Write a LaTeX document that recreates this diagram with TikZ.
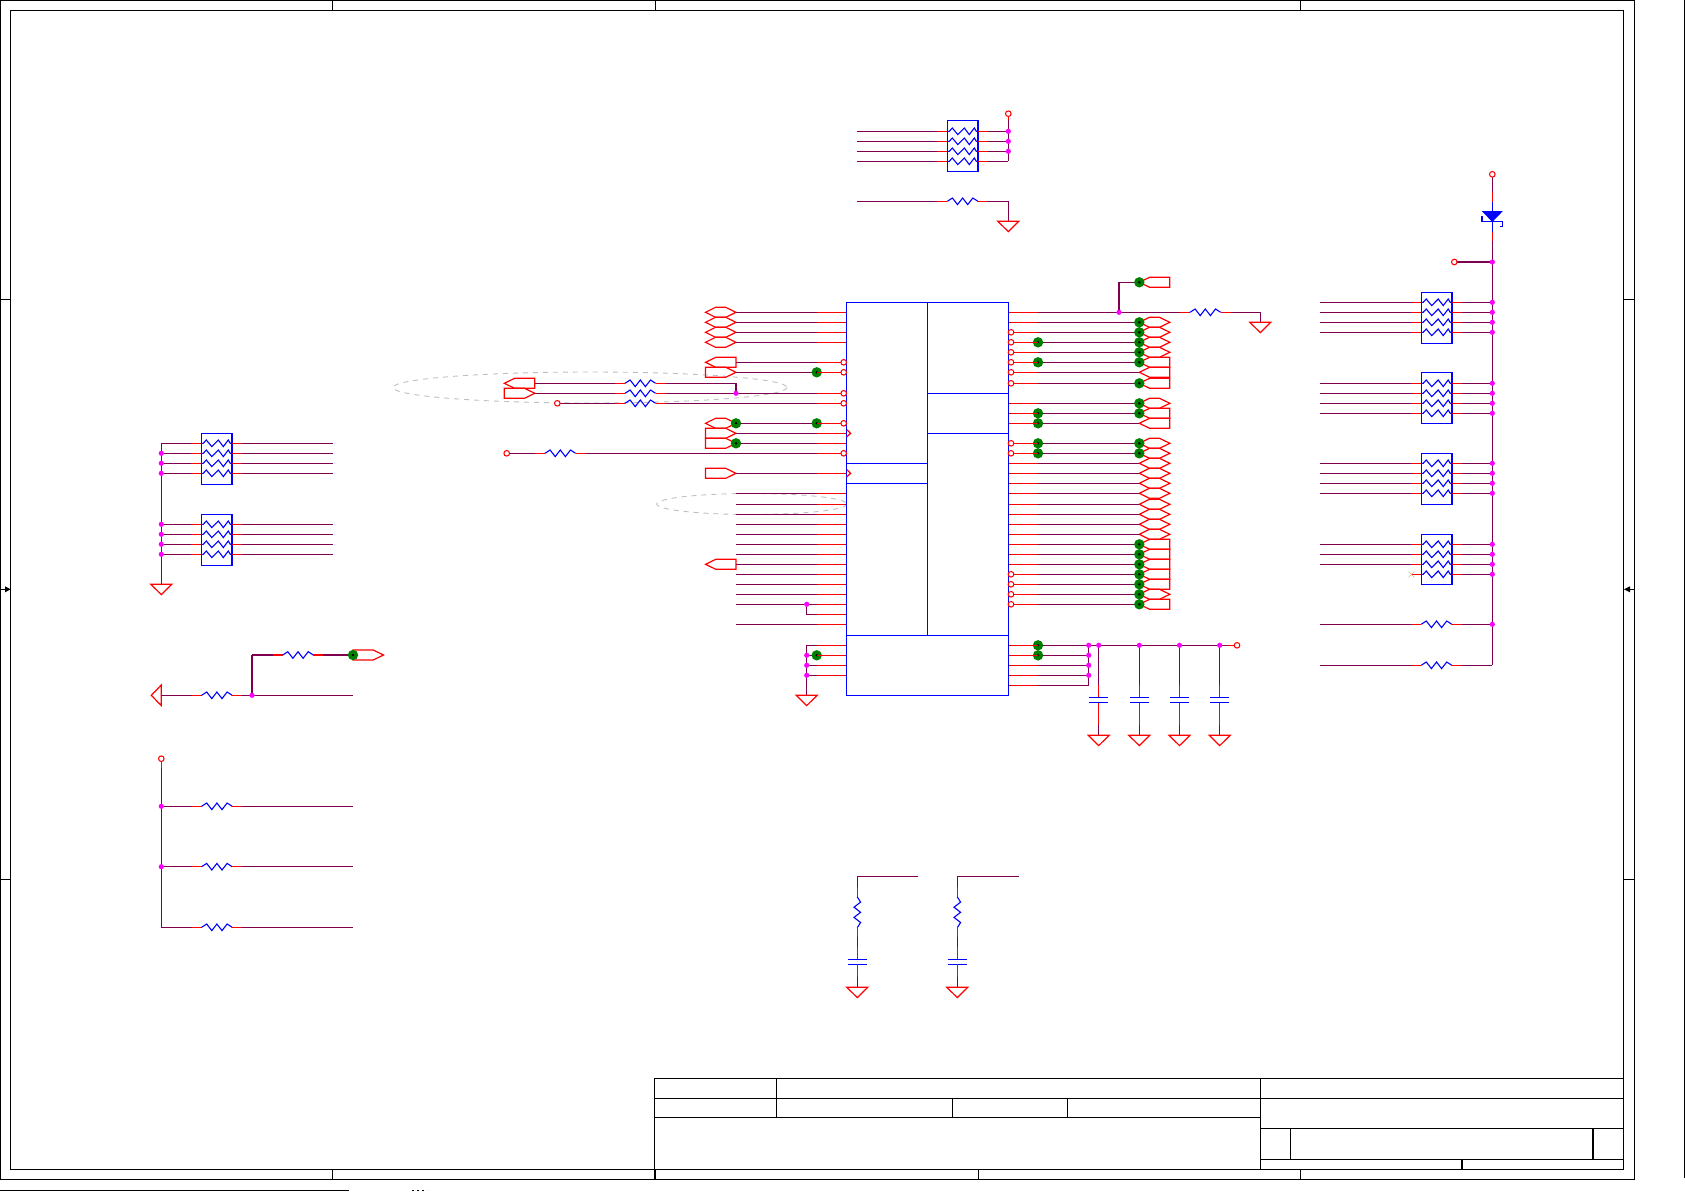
\documentclass[tikz,border=0pt]{standalone}
\definecolor{netc}{rgb}{0.502,0,0.314}
\definecolor{jnc}{rgb}{1,0,1}
\definecolor{tpc}{rgb}{0,0.502,0}
\tikzset{
  frameline/.style={draw=black,line width=1.2pt},
  netline/.style={draw=netc,line width=1.25pt},
  stubline/.style={draw=red,line width=1.25pt},
  bodyline/.style={draw=blue,line width=1.25pt},
  zigline/.style={draw=blue,line width=1.1pt},
  connline/.style={draw=red,line width=1.2pt,line join=miter},
  haloline/.style={draw=black!25,line width=.9pt,dash pattern=on 5pt off 5pt},
  bubbleline/.style={draw=red,fill=white,line width=1.05pt},
  jdot/.style={fill=jnc,draw=none},
  tpdot/.style={fill=tpc,draw=none}
}
% off-sheet connectors
\newcommand{\skHex}[2]{\draw[connline] (#1,#2) -- ++(10,-5) -- ++(10.2,0) -- ++(10.3,5) -- ++(-10.3,5) -- ++(-10.2,0) -- cycle;}
\newcommand{\skPentR}[2]{\draw[connline] (#1,#2-5) -- ++(20.2,0) -- ++(10.3,5) -- ++(-10.3,5) -- ++(-20.2,0) -- cycle;}
\newcommand{\skPentL}[2]{\draw[connline] (#1,#2) -- ++(10.3,-5) -- ++(20.2,0) -- ++(0,10) -- ++(-20.2,0) -- cycle;}
% marks
\newcommand{\skG}[2]{\fill[tpdot] (#1,#2) circle (5.2); \fill[black] (#1,#2) circle (1.4);}
\newcommand{\skJ}[2]{\fill[jdot] (#1,#2) circle (2.6);}
\newcommand{\skB}[2]{\draw[bubbleline] (#1,#2) circle (2.8);}
\newcommand{\skGnd}[2]{\draw[connline] (#1-10.5,#2) -- (#1+10.5,#2) -- (#1,#2+10.3) -- cycle;}
% plain wire
\newcommand{\skW}[4]{\coordinate (wa) at (#1,#2); \coordinate (wb) at (#3,#4); \draw[netline] (wa) -- (wb);}
\newcommand{\skS}[4]{\coordinate (sa) at (#1,#2); \coordinate (sb) at (#3,#4); \draw[stubline] (sa) -- (sb);}
% bare resistor, left edge x, row y
\newcommand{\skRes}[2]{%
  \skS{#1-10}{#2}{#1}{#2}
  \draw[zigline] (#1,#2) -- ++(5.1,-3.3) -- ++(5.1,6.6) -- ++(5.1,-6.6) -- ++(5.1,6.6) -- ++(5.1,-6.6) -- ++(5.1,3.3);
  \skS{#1+30.6}{#2}{#1+40.6}{#2}}
% resistor inside a pack
\newcommand{\skPres}[2]{%
  \skS{#1-10}{#2}{#1}{#2}
  \draw[zigline] (#1,#2) -- ++(2,0) -- ++(3,-3.3) -- ++(5.5,6.6) -- ++(6.5,-6.6) -- ++(5,6.6) -- ++(5,-6.6) -- ++(2,3.3) -- ++(1.6,0);
  \skS{#1+30.6}{#2}{#1+40.6}{#2}}
% whole row of a pack / of a bare resistor: x, y, left end, right end
\newcommand{\skProw}[4]{\skW{#3}{#2}{#1-10}{#2}\skW{#1+40.6}{#2}{#4}{#2}\skPres{#1}{#2}}
\newcommand{\skRrow}[4]{\skW{#3}{#2}{#1-10}{#2}\skW{#1+40.6}{#2}{#4}{#2}\skRes{#1}{#2}}
% four-row pack: x, top of box, first row, left end, right end
\newcommand{\skPack}[5]{%
  \draw[bodyline] (#1,#2) rectangle ++(30.8,51);
  \skProw{#1}{#3}{#4}{#5}\skProw{#1}{#3+10}{#4}{#5}\skProw{#1}{#3+20}{#4}{#5}\skProw{#1}{#3+30}{#4}{#5}}
% capacitor plates
\newcommand{\skCap}[2]{\draw[bodyline] (#1-9.7,#2) -- (#1+9.7,#2); \draw[bodyline] (#1-9.7,#2+5) -- (#1+9.7,#2+5);}
\begin{document}
\begin{tikzpicture}[x=1pt,y=-1pt]
\useasboundingbox (0,0) rectangle (1685,1191);
% ---------- sheet frame
\draw[frameline] (0.5,0.5) rectangle (1634.4,1179.3);
\draw[frameline] (10.7,10.5) rectangle (1623.3,1169.3);
\foreach \xa in {332.3,655.5,1300.3} \draw[frameline] (\xa,0.5) -- (\xa,10.5);
\foreach \xa in {332.3,655,978.7,1300.7} \draw[frameline] (\xa,1169.3) -- (\xa,1179.3);
\foreach \ya in {299.2,879.2} {\draw[frameline] (0.5,\ya) -- (10.7,\ya); \draw[frameline] (1623.3,\ya) -- (1634.4,\ya);}
\draw[frameline] (0.5,589.3) -- (6,589.3); \fill[black] (5,586.3) -- (10.7,589.3) -- (5,592.3) -- cycle;
\draw[frameline] (1629,589.3) -- (1634.4,589.3); \fill[black] (1630,586.3) -- (1624,589.3) -- (1630,592.3) -- cycle;
% title block
\draw[frameline] (654.7,1169.3) -- (654.7,1078.3) -- (1623.3,1078.3);
\draw[frameline] (654.7,1098.3) -- (1623.3,1098.3);
\draw[frameline] (654.7,1117.3) -- (1260.7,1117.3);
\draw[frameline] (776.7,1078.3) -- (776.7,1117.3);
\draw[frameline] (952.7,1098.3) -- (952.7,1117.3);
\draw[frameline] (1067.3,1098.3) -- (1067.3,1117.3);
\draw[frameline] (1260.7,1078.3) -- (1260.7,1169.3);
\draw[frameline] (1260.7,1128.3) -- (1623.3,1128.3);
\draw[frameline] (1260.7,1159.3) -- (1623.3,1159.3);
\draw[frameline] (1290.7,1128.3) -- (1290.7,1159.3);
\draw[frameline] (1593,1128.3) -- (1593,1159.3);
\draw[frameline] (1462,1159.3) -- (1462,1169.3);
% clipped marks at the page edge
\draw[frameline] (0,1190.5) -- (349,1190.5);
\draw[frameline,dash pattern=on 2pt off 3pt] (412,1190.5) -- (427,1190.5);
\draw[frameline] (1684.5,0) -- (1684.5,1178);
% ---------- dashed outlines
\draw[haloline] (590,387.5) ellipse (197 and 15.5);
\draw[haloline] (751.7,504) ellipse (95 and 10.5);
% ---------- IC pin positions
\foreach \ya in {312,322,332,342,362,372,393,403,423,433,443,453,473,493,504,514,524,534,544,554,564,574,584,594,604,614,624,645,655,665,675} {
  \coordinate (Lp\ya) at (846.3,\ya+.3);
  \coordinate (Ls\ya) at (816.7,\ya+.3);
  \coordinate (Lw\ya) at (736,\ya+.3);
}
\foreach \ya in {312,322,332,342,352,362,372,383,403,413,423,443,453,463,473,483,493,504,514,524,534,544,554,564,574,584,594,604,645,655,665,675,685} {
  \coordinate (Rp\ya) at (1008.3,\ya+.3);
  \coordinate (Rs\ya) at (1038,\ya+.3);
  \coordinate (Rw\ya) at (1139.3,\ya+.3);
}
% ---------- left connectors
\foreach \ya in {312.3,322.3,332.3,342.3,423.3} {\skHex{705.5}{\ya}}
\foreach \ya in {362.3,564.3} {\skPentL{705.5}{\ya}}
\foreach \ya in {372.3,433.3,443.3,473.3} {\skPentR{705.5}{\ya}}
\skPentL{504.3}{383.3}
\skPentR{504.3}{393.3}
% ---------- right connectors
\foreach \ya in {322.3,332.3,342.3,352.3,403.3,443.3,453.3,463.3,473.3,483.3,493.3,504.3,514.3,524.3,534.3,594.3} {\skHex{1139.3}{\ya}}
\foreach \ya in {282.3,362.3,372.3,383.3,413.3,423.3,544.3,554.3,564.3,574.3,584.3,604.3} {\skPentL{1139.3}{\ya}}
% ---------- IC wires, outer purple parts
\foreach \ya in {312,322,332,342,362,372,423,433,443,473,493,504,514,524,534,544,554,564,574,584,594,604,624}
  {\draw[netline] (Lw\ya) -- (Ls\ya);}
\foreach \ya in {322,332,342,352,362,372,383,403,413,423,443,453,463,473,483,493,504,514,524,534,544,554,564,574,584,594,604}
  {\draw[netline] (Rs\ya) -- (Rw\ya);}
% resistor branch to rows 393/403
\skW{534.8}{383.3}{615}{383.3}\skRes{625}{383.3}\skW{665.6}{383.3}{736}{383.3}
\skW{736}{383.3}{736}{393.3}
\skW{534.8}{393.3}{615}{393.3}\skRes{625}{393.3}\draw[netline] (665.6,393.3) -- (Ls393);
\skW{560}{403.3}{615}{403.3}\skRes{625}{403.3}\draw[netline] (665.6,403.3) -- (Ls403);
% row 453
\skW{509.5}{453.3}{535}{453.3}\skRes{545}{453.3}\draw[netline] (585.6,453.3) -- (Ls453);
% rows 604/614 tie
\coordinate (tie) at (806.7,604.3);
\draw[netline] (tie) |- (Ls614);
% ground rail left of IC
\coordinate (gl) at (806.7,695.3);
\draw[netline] (806.7,645.3) -- (gl);
\foreach \ya in {645,655,665,675} {\draw[netline] (806.7,\ya+.3) -- (Ls\ya);}
\skGnd{806.7}{695.3}
% supply rail right of IC
\draw[netline] (Rs645) -- (1227,645.3);
\foreach \ya in {655,665,675,685} {\draw[netline] (Rs\ya) -- (1088.7,\ya+.3);}
\skW{1088.7}{645.3}{1088.7}{685.3}
\skS{1227}{645.3}{1234.2}{645.3}
% capacitors on the rail
\foreach \xa in {1098.7,1139.3,1179.5,1219.7} {
  \skW{\xa}{645.3}{\xa}{685}
  \skS{\xa}{685}{\xa}{697.3}
  \skS{\xa}{702.3}{\xa}{725}
  \skW{\xa}{725}{\xa}{735.3}
  \skCap{\xa}{697.3}
  \skGnd{\xa}{735.3}
}
% row 312 to ground
\draw[netline] (Rs312) -- (1180,312.3);
\skRes{1190}{312.3}
\skW{1230.6}{312.3}{1260.3}{312.3}
\skW{1260.3}{312.3}{1260.3}{322.3}
\skGnd{1260.3}{322.3}
\coordinate (t282) at (1139.3,282.3);
\draw[netline] (1119,312.3) |- (t282);
% ---------- green test points
\foreach \ya in {372.3,423.3,655.3} {\skG{816.7}{\ya}}
\foreach \ya in {423.3,443.3} {\skG{736}{\ya}}
\foreach \ya in {342.3,362.3,413.3,423.3,443.3,453.3,645.3,655.3} {\skG{1038}{\ya}}
\foreach \ya in {282.3,322.3,332.3,342.3,352.3,362.3,383.3,403.3,413.3,443.3,453.3,544.3,554.3,564.3,574.3,584.3,594.3,604.3} {\skG{1139.3}{\ya}}
% ---------- red pin stubs
\foreach \ya in {312,322,332,342,362,372,393,403,423,433,443,453,473,493,504,514,524,534,544,554,564,574,584,594,604,614,624,645,655,665,675}
  {\draw[stubline] (Ls\ya) -- (Lp\ya);}
\foreach \ya in {312,322,332,342,352,362,372,383,403,413,423,443,453,463,473,483,493,504,514,524,534,544,554,564,574,584,594,604,645,655,665,675,685}
  {\draw[stubline] (Rp\ya) -- (Rs\ya);}
% ---------- IC body
\draw[bodyline] (846.3,302.3) rectangle (1008.3,695.3);
\draw[bodyline] (927.3,302.3) -- (927.3,635.3);
\draw[bodyline] (846.3,635.3) -- (1008.3,635.3);
\draw[bodyline] (846.3,463.3) -- (927.3,463.3);
\draw[bodyline] (846.3,483.3) -- (927.3,483.3);
\draw[bodyline] (927.3,393.3) -- (1008.3,393.3);
\draw[bodyline] (927.3,433.3) -- (1008.3,433.3);
% pin bubbles and clock marks
\foreach \ya in {362.3,372.3,393.3,403.3,423.3,453.3} {\skB{843.7}{\ya}}
\foreach \ya in {332.3,342.3,352.3,362.3,372.3,383.3,443.3,453.3,574.3,584.3,594.3,604.3} {\skB{1011}{\ya}}
\foreach \ya in {433.3,473.3} {\draw[stubline] (846.8,\ya-3.6) -- (850.6,\ya) -- (846.8,\ya+3.6);}
% ---------- junctions
\skJ{736}{393.3}
\skJ{806.7}{604.3}
\skJ{806.7}{655.3}\skJ{806.7}{665.3}\skJ{806.7}{675.3}
\foreach \ya in {645.3,655.3,665.3,675.3} {\skJ{1088.7}{\ya}}
\foreach \xa in {1098.7,1139.3,1179.5,1219.7} {\skJ{\xa}{645.3}}
\skJ{1119}{312.3}
\skB{557.3}{403.3}
\skB{506.7}{453.3}
\skB{1237}{645.3}
% ---------- top pack
\skPack{947.3}{120.3}{131.3}{856.7}{1008.3}
\skW{1008.3}{120}{1008.3}{161.3}
\skS{1008.3}{116.6}{1008.3}{120}
\skB{1008.3}{113.7}
\foreach \ya in {131.3,141.3,151.3} {\skJ{1008.3}{\ya}}
\skRrow{947.3}{201.3}{856.7}{1008.3}
\skW{1008.3}{201.3}{1008.3}{221.3}
\skGnd{1008.3}{221.3}
% ---------- right column
\skW{1492.3}{177}{1492.3}{191.7}
\skS{1492.3}{191.7}{1492.3}{201.7}
\draw[bodyline] (1492.3,201.7) -- (1492.3,232);
\skS{1492.3}{232}{1492.3}{241}
\skW{1492.3}{241}{1492.3}{665.3}
\skB{1492.3}{174.3}
\fill[blue] (1481.7,211) -- (1502.9,211) -- (1492.3,222) -- cycle;
\draw[bodyline] (1482,216) -- (1482,221.7) -- (1502.5,221.7) -- (1502.5,226.7) -- (1499.5,226.7);
\skW{1457}{262}{1492.3}{262}
\skB{1454.3}{262}
\skJ{1492.3}{262}
\skPack{1421.2}{292.3}{302.3}{1320}{1492.3}
\skPack{1421.2}{372.3}{383.3}{1320}{1492.3}
\skPack{1421.2}{453.3}{463.3}{1320}{1492.3}
\draw[bodyline] (1421.2,534.3) rectangle ++(30.8,50);
\skProw{1421.2}{544.3}{1320}{1492.3}
\skProw{1421.2}{554.3}{1320}{1492.3}
\skProw{1421.2}{564.3}{1320}{1492.3}
\skProw{1421.2}{574.3}{1411.2}{1492.3}
\draw[draw=brown!60,line width=.4pt] (1408.5,571.5) -- (1414.5,577.5) (1408.5,577.5) -- (1414.5,571.5);
\skRrow{1421.2}{624.3}{1320}{1492.3}
\skRrow{1421.2}{665.3}{1320}{1492.3}
\foreach \ya in {302.3,312.3,322.3,332.3,383.3,393.3,403.3,413.3,463.3,473.3,483.3,493.3,544.3,554.3,564.3,574.3,624.3} {\skJ{1492.3}{\ya}}
% ---------- left packs
\skPack{201.3}{433.3}{443.3}{161.3}{333}
\skPack{201.3}{514.3}{524.3}{161.3}{333}
\skW{161.3}{443.3}{161.3}{584.3}
\skGnd{161.3}{584.3}
\foreach \ya in {453.3,463.3,473.3,524.3,534.3,544.3,554.3} {\skJ{161.3}{\ya}}
% ---------- pair at left middle
\draw[connline] (161.3,685) -- (161.3,705.6) -- (151.3,695.3) -- cycle;
\skRrow{201.6}{695.3}{161.3}{353.3}
\skW{252}{695.3}{252}{655}
\skW{252}{655}{272.7}{655}
\skRes{282.7}{655}
\skW{323.3}{655}{353}{655}
\skPentR{353}{655}
\skG{353}{655}
\skJ{252}{695.3}
% ---------- three pull-ups
\skW{161.3}{761.6}{161.3}{927.3}
\skS{161.3}{761.6}{161.3}{768}
\skB{161.3}{758.7}
\skRrow{201.6}{806.3}{161.3}{353.3}
\skRrow{201.6}{866.7}{161.3}{353.3}
\skRrow{201.6}{927.3}{161.3}{353.3}
\skJ{161.3}{806.3}\skJ{161.3}{866.7}
% ---------- two RC filters
\foreach \xa/\xe in {857.3/917.7,957.3/1018.7} {
  \skW{\xa}{876.3}{\xe}{876.3}
  \skW{\xa}{876.3}{\xa}{886.7}
  \skS{\xa}{886.7}{\xa}{897}
  \draw[zigline] (\xa,897) -- ++(3.3,5.1) -- ++(-6.6,5.1) -- ++(6.6,5.1) -- ++(-6.6,5.1) -- ++(6.6,5.1) -- ++(-3.3,5.1);
  \skS{\xa}{927.6}{\xa}{937.3}
  \skW{\xa}{937.3}{\xa}{947.3}
  \skS{\xa}{947.3}{\xa}{959.3}
  \skCap{\xa}{959.3}
  \skS{\xa}{964.3}{\xa}{977.3}
  \skW{\xa}{977.3}{\xa}{987.3}
  \skGnd{\xa}{987.3}
}
\end{tikzpicture}
\end{document}
